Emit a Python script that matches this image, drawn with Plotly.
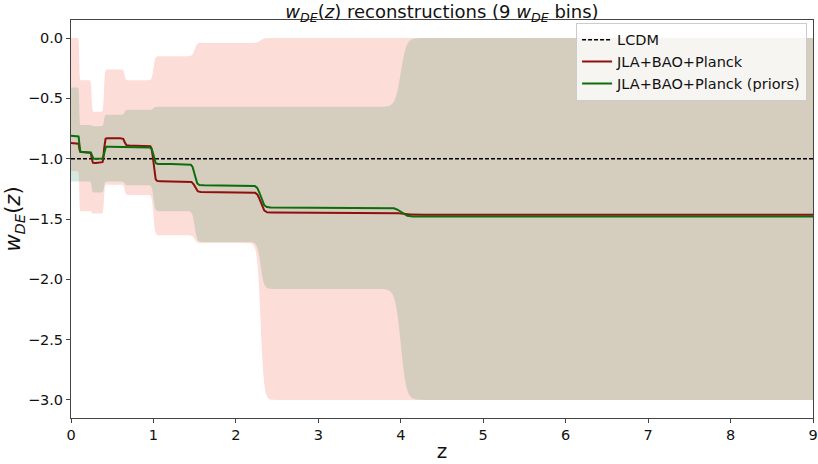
import numpy as np
import plotly.graph_objects as go

# Redshift bin edges (9 bins of w_DE)
z_edges = [0.1, 0.25, 0.4, 0.65, 1.0, 1.5, 2.3, 4.0]

# Best-fit w_DE in each bin
w_jla = [-0.87, -0.945, -1.035, -0.83, -0.89, -1.188, -1.276, -1.447, -1.464]
w_priors = [-0.81, -0.945, -1.0, -0.90, -0.905, -1.044, -1.221, -1.405, -1.48]

# 1-sigma band limits in each bin
jla_upper = [0.0, -0.35, -0.61, -0.26, -0.35, -0.15, -0.04, 0.0, 0.0]
jla_lower = [-1.105, -1.435, -1.455, -1.215, -1.30, -1.635, -1.70, -3.0, -3.0]
priors_upper = [-0.41, -0.72, -0.73, -0.635, -0.595, -0.57, -0.57, -0.57, 0.0]
priors_lower = [-1.19, -1.19, -1.28, -1.19, -1.22, -1.435, -1.69, -2.08, -3.0]

w_lcdm = -1.0
z_max = 9.0

x_ticks = [0, 1, 2, 3, 4, 5, 6, 7, 8, 9]
y_ticks = [0.0, -0.5, -1.0, -1.5, -2.0, -2.5, -3.0]

# Evaluation grid, refined around the bin edges
z = np.unique(np.concatenate([
    np.linspace(0.0, z_max, 2500),
    *[np.linspace(e - 0.3, e + 0.3, 300) for e in z_edges],
]))
z = z[(z >= 0) & (z <= z_max)]


def binned(values):
    """Piecewise-constant w(z) with tanh-smoothed steps at the bin edges."""
    vals = np.asarray(values, dtype=float)
    out = np.full_like(z, vals[0])
    for i, edge in enumerate(z_edges):
        width = 0.004 + 0.016 * edge
        out += (vals[i + 1] - vals[i]) * 0.5 * (1.0 + np.tanh((z - edge) / width))
    return out


jla_hi, jla_lo = binned(jla_upper), binned(jla_lower)
pr_hi, pr_lo = binned(priors_upper), binned(priors_lower)
both_hi, both_lo = np.minimum(jla_hi, pr_hi), np.maximum(jla_lo, pr_lo)

PINK = "#FDDDD8"
TEAL = "#D3EAE0"
TAN = "#D5CDBE"
RED = "#900E0E"
GREEN = "#0B6E0B"


def band(lo, hi, color):
    return go.Scatter(
        x=np.concatenate([z, z[::-1]]),
        y=np.concatenate([hi, lo[::-1]]),
        fill="toself", fillcolor=color, mode="none",
        line=dict(width=0), showlegend=False, hoverinfo="skip",
    )


fig = go.Figure()
fig.add_trace(band(pr_lo, pr_hi, TEAL))
fig.add_trace(band(jla_lo, jla_hi, PINK))
fig.add_trace(band(both_lo, both_hi, TAN))

fig.add_trace(go.Scatter(
    x=[0, z_max], y=[w_lcdm, w_lcdm], mode="lines", name="LCDM",
    line=dict(color="black", width=1.4, dash="4px,2px"),
))
fig.add_trace(go.Scatter(
    x=z, y=binned(w_jla), mode="lines", name="JLA+BAO+Planck",
    line=dict(color=RED, width=2),
))
fig.add_trace(go.Scatter(
    x=z, y=binned(w_priors), mode="lines", name="JLA+BAO+Planck (priors)",
    line=dict(color=GREEN, width=2),
))

FONT = "DejaVu Sans"
axis_common = dict(
    showline=True, linecolor="#444444", linewidth=1, mirror=True,
    showgrid=False, zeroline=False, ticks="outside", ticklen=4,
    tickcolor="#444444", tickwidth=1,
    tickfont=dict(family=FONT, size=14.5, color="#111111"),
)

fig.update_layout(
    width=818, height=464,
    margin=dict(l=71, r=0, t=20, b=46),
    paper_bgcolor="white", plot_bgcolor="white",
    font=dict(family=FONT, color="#111111"),
    title=dict(
        text="<i>w</i><sub><i>DE</i></sub>(<i>z</i>) reconstructions (9 <i>w</i><sub><i>DE</i></sub> bins)",
        x=0.5, xref="paper", xanchor="center",
        y=1, yref="paper", yanchor="bottom", pad=dict(b=2),
        font=dict(family=FONT, size=18, color="#111111"),
    ),
    xaxis=dict(
        range=[0, z_max], tickvals=x_ticks, ticklabeloverflow="allow",
        title=dict(text="z", font=dict(family=FONT, size=20), standoff=1),
        **axis_common,
    ),
    yaxis=dict(
        range=[-3.15, 0.15], tickvals=y_ticks, tickformat=".1f",
        title=dict(text="<i>w</i><sub><i>DE</i></sub>(<i>z</i>)",
                   font=dict(family=FONT, size=21), standoff=0),
        **axis_common,
    ),
    legend=dict(
        x=0.992, y=0.993, xanchor="right", yanchor="top",
        bgcolor="rgba(255,255,255,0.8)", bordercolor="#CCCCCC", borderwidth=1,
        font=dict(family=FONT, size=14.5, color="#111111"),
    ),
)

fig.write_html("out.html")
